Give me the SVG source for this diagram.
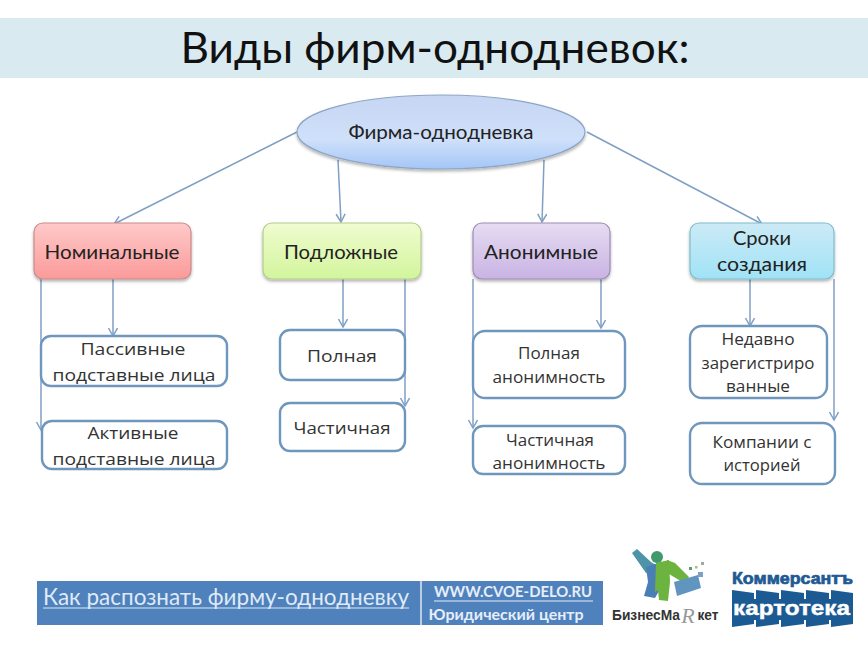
<svg xmlns="http://www.w3.org/2000/svg" width="868" height="647" viewBox="0 0 868 647">
<style>
text{font-family:Lato,"Noto Sans","Liberation Sans",sans-serif;fill:#222;text-anchor:middle}
.t{font-size:19.5px}
.s{font-size:17px;font-family:"Open Sans","Noto Sans",sans-serif;fill:#333}
.box{fill:#fff;stroke:#6f96bd;stroke-width:2.4}
.head{stroke-width:1.2;filter:url(#sh)}
.c{fill:none;stroke:#7f9fc4;stroke-width:1.5;marker-end:url(#a)}
.lg{font-family:"Liberation Sans",sans-serif;font-weight:700}
</style>
<defs>
<marker id="a" markerUnits="userSpaceOnUse" markerWidth="12" markerHeight="12" refX="9" refY="5" orient="auto"><path d="M1 .5L9 5L1 9.5" fill="none" stroke="#7f9fc4" stroke-width="1.5"/></marker>
<filter id="sh" x="-10%" y="-15%" width="120%" height="135%"><feDropShadow dx="0" dy="2" stdDeviation="1.5" flood-color="#000" flood-opacity=".3"/></filter>
<filter id="bl" x="-5%" y="-5%" width="110%" height="110%"><feGaussianBlur stdDeviation=".5"/></filter>
<linearGradient id="gb" x1="0" y1="0" x2="0" y2="1"><stop offset="0" stop-color="#c6d6f3"/><stop offset=".6" stop-color="#cfe0fa"/><stop offset="1" stop-color="#a4c6f6"/></linearGradient>
<linearGradient id="gr" x1="0" y1="0" x2="0" y2="1"><stop offset="0" stop-color="#ffc9c9"/><stop offset="1" stop-color="#fb9a9a"/></linearGradient>
<linearGradient id="gg" x1="0" y1="0" x2="0" y2="1"><stop offset="0" stop-color="#f0fcd0"/><stop offset="1" stop-color="#d2f59c"/></linearGradient>
<linearGradient id="gp" x1="0" y1="0" x2="0" y2="1"><stop offset="0" stop-color="#e6dcf2"/><stop offset="1" stop-color="#c9b3e4"/></linearGradient>
<linearGradient id="gc" x1="0" y1="0" x2="0" y2="1"><stop offset="0" stop-color="#cdeaf6"/><stop offset="1" stop-color="#9fe3f6"/></linearGradient>
</defs>
<rect width="868" height="647" fill="#fff"/>
<g id="title"><rect x="0" y="18" width="868" height="60" fill="#d9eaf1"/><text x="435" y="63" font-size="42" style="fill:#111" textLength="509" lengthAdjust="spacingAndGlyphs">Виды фирм-однодневок:</text></g>
<g id="connectors">
<path class="c" d="M297 132L114 224"/><path class="c" d="M338 160L341 222"/><path class="c" d="M544 160L542 222"/><path class="c" d="M587 132L762 224"/>
<path class="c" d="M41 279V430"/><path class="c" d="M113 279V336"/><path class="c" d="M343 279V327"/><path class="c" d="M405 279V406"/>
<path class="c" d="M473 279V428"/><path class="c" d="M601 279V328"/><path class="c" d="M750 279V326"/><path class="c" d="M834 279V420"/>
</g>
<g id="root"><ellipse cx="441" cy="132" rx="144" ry="37" fill="url(#gb)" stroke="#8ea6c6" stroke-width="1.2" filter="url(#sh)"/><text class="t" x="441" y="139" textLength="185" lengthAdjust="spacingAndGlyphs">Фирма-однодневка</text></g>
<g id="n1"><rect class="head" x="34" y="223" width="157" height="56" rx="9" fill="url(#gr)" stroke="#c98a8a"/><text class="t" x="112" y="259" textLength="135" lengthAdjust="spacingAndGlyphs">Номинальные</text></g>
<g id="n2"><rect class="head" x="263" y="223" width="158" height="56" rx="9" fill="url(#gg)" stroke="#b3cc8c"/><text class="t" x="341" y="259" textLength="114" lengthAdjust="spacingAndGlyphs">Подложные</text></g>
<g id="n3"><rect class="head" x="473" y="223" width="137" height="56" rx="9" fill="url(#gp)" stroke="#9c8bb4"/><text class="t" x="541" y="259" textLength="114" lengthAdjust="spacingAndGlyphs">Анонимные</text></g>
<g id="n4"><rect class="head" x="690" y="223" width="144" height="56" rx="9" fill="url(#gc)" stroke="#7fbccc"/><text class="t" x="762" y="245" textLength="58" lengthAdjust="spacingAndGlyphs">Сроки</text><text class="t" x="762" y="271" textLength="90" lengthAdjust="spacingAndGlyphs">создания</text></g>
<g id="s1"><rect class="box" x="41" y="336" width="186" height="50" rx="10"/><text class="s" x="133" y="355" textLength="105" lengthAdjust="spacingAndGlyphs">Пассивные</text><text class="s" x="134" y="381" textLength="163" lengthAdjust="spacingAndGlyphs">подставные лица</text></g>
<g id="s2"><rect class="box" x="42" y="421" width="185" height="48" rx="10"/><text class="s" x="133" y="439" textLength="91" lengthAdjust="spacingAndGlyphs">Активные</text><text class="s" x="134" y="465" textLength="163" lengthAdjust="spacingAndGlyphs">подставные лица</text></g>
<g id="s3"><rect class="box" x="280" y="330" width="125" height="50" rx="10"/><text class="s" x="342" y="362" textLength="70" lengthAdjust="spacingAndGlyphs">Полная</text></g>
<g id="s4"><rect class="box" x="280" y="403" width="125" height="48" rx="10"/><text class="s" x="342" y="434" textLength="97" lengthAdjust="spacingAndGlyphs">Частичная</text></g>
<g id="s5"><rect class="box" x="473" y="331" width="152" height="67" rx="12"/><text class="s" x="549" y="359" style="font-size:16px" textLength="62" lengthAdjust="spacingAndGlyphs">Полная</text><text class="s" x="549" y="383" textLength="113" lengthAdjust="spacingAndGlyphs">анонимность</text></g>
<g id="s6"><rect class="box" x="473" y="426" width="152" height="48" rx="10"/><text class="s" x="550" y="446" style="font-size:16px" textLength="88" lengthAdjust="spacingAndGlyphs">Частичная</text><text class="s" x="549" y="469" textLength="113" lengthAdjust="spacingAndGlyphs">анонимность</text></g>
<g id="s7"><rect class="box" x="690" y="326" width="137" height="72" rx="12"/><text class="s" x="758" y="345" textLength="73" lengthAdjust="spacingAndGlyphs">Недавно</text><text class="s" x="758" y="369" textLength="113" lengthAdjust="spacingAndGlyphs">зарегистриро</text><text class="s" x="758" y="392" textLength="64" lengthAdjust="spacingAndGlyphs">ванные</text></g>
<g id="s8"><rect class="box" x="690" y="423" width="145" height="61" rx="12"/><text class="s" x="762" y="448" textLength="99" lengthAdjust="spacingAndGlyphs">Компании с</text><text class="s" x="762" y="471" textLength="77" lengthAdjust="spacingAndGlyphs">историей</text></g>
<g id="banner"><rect x="37" y="581" width="566" height="44" fill="#4f81bd"/><rect x="420" y="581" width="2" height="44" fill="#b9cde4"/>
<text x="226" y="605" font-size="23" style="fill:#dfeaf6" textLength="366" lengthAdjust="spacingAndGlyphs">Как распознать фирму-однодневку</text><path d="M43 608H409" stroke="#dfeaf6" stroke-width="1.2"/>
<text x="513" y="597" font-size="16" style="fill:#e6eef8;font-weight:700" textLength="158" lengthAdjust="spacingAndGlyphs">WWW.CVOE-DELO.RU</text><path d="M434 601H593" stroke="#e6eef8" stroke-width="1.2"/>
<text x="506" y="620" font-size="15" style="fill:#e6eef8;font-weight:700" textLength="155" lengthAdjust="spacingAndGlyphs">Юридический центр</text></g>
<g id="logo-bm">
<g filter="url(#bl)">
<path d="M632 553L637 549L651 562L656 565V572L646 573Z" fill="#4f93a8"/>
<path d="M646 567L659 563V591L655 598L644 596L648 582Z" fill="#4a7fb5"/>
<path d="M656 563L669 560L670 582L668 601L659 600L658 590L655 592Z" fill="#6cb33f"/>
<circle cx="657" cy="557" r="6" fill="#3f9a6c"/>
<path d="M667 560L675 563L689 577L684 583L669 574Z" fill="#6cb33f"/>
<path d="M674 582L698 575L701 588L677 596Z" fill="#5f95bf"/>
<rect x="698" y="572" width="5" height="5" fill="#7fa0c4"/><rect x="689" y="567" width="3" height="3" fill="#5c9a7a"/><rect x="695" y="566" width="2.500" height="2.500" fill="#9cc56f"/><rect x="701" y="562" width="3" height="3" fill="#a0a8a8"/>
</g>
<text class="lg" x="646" y="620" font-size="14" style="fill:#333" textLength="68" lengthAdjust="spacingAndGlyphs">БизнесМа</text>
<text x="688" y="623" font-size="22" style="fill:#999;font-style:italic;font-family:'Liberation Serif',serif">R</text>
<text class="lg" x="708" y="620" font-size="14" style="fill:#333" textLength="21" lengthAdjust="spacingAndGlyphs">кет</text>
</g>
<g id="logo-k">
<text class="lg" x="792.500" y="584" font-size="16" style="fill:#1f5a94;stroke:#1f5a94;stroke-width:.7" textLength="121" lengthAdjust="spacingAndGlyphs">Коммерсантъ</text>
<path filter="url(#bl)" d="M732 590L754 593V624L732 627Z M756 590L779 593V624L756 627Z M781 590L804 593V624L781 627Z M806 590L829 593V624L806 627Z M831 590L853 593V624L831 627Z M732 599H853V620H732Z" fill="#1f5a94"/>
<text class="lg" x="791.500" y="615" font-size="20" style="fill:#fff;stroke:#fff;stroke-width:.4" textLength="117" lengthAdjust="spacingAndGlyphs">картотека</text>
</g>
</svg>
